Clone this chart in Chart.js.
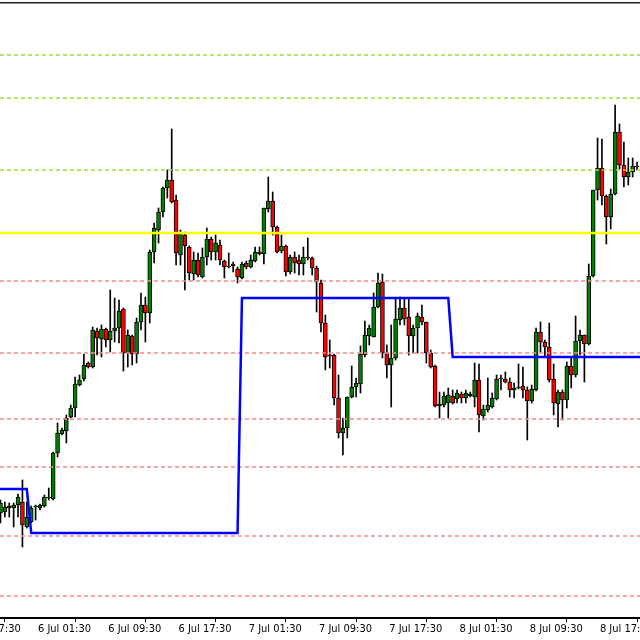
<!DOCTYPE html>
<html><head><meta charset="utf-8">
<script src="https://cdn.jsdelivr.net/npm/chart.js@4.4.1/dist/chart.umd.min.js"></script>
<style>html,body{margin:0;padding:0;background:#fff;}canvas{display:block;}</style>
</head><body>
<canvas id="c" width="640" height="640"></canvas>
<script>
// M30 candles, first candle 5 Jul 21:00, last 8 Jul 21:30
const openPrices = [
1.1107,1.1108,1.1114,1.1112,1.1115,1.1118,1.1093,1.1098,1.1113,
1.1112,1.1114,1.1122,1.1121,1.1167,1.1186,1.1189,1.1203,1.1212,1.1235,
1.1241,1.1257,1.1253,1.1289,1.1281,1.1291,1.1280,1.1289,1.1292,1.1311,
1.1267,1.1284,1.1266,1.1298,1.1315,1.1307,1.1368,1.1390,1.1408,1.1432,
1.1440,1.1420,1.1365,1.1385,1.1373,1.1346,1.1360,1.1343,1.1363,1.1381,
1.1368,1.1375,1.1359,1.1354,1.1356,1.1351,1.1342,1.1357,1.1353,1.1359,
1.1368,1.1366,1.1411,1.1419,1.1393,1.1369,1.1374,1.1348,1.1363,1.1360,
1.1356,1.1363,1.1362,1.1352,1.1337,1.1297,1.1265,1.1265,1.1222,1.1187,
1.1192,1.1223,1.1233,1.1236,1.1265,1.1284,1.1283,1.1313,1.1338,1.1267,
1.1255,1.1262,1.1300,1.1312,1.1303,1.1284,1.1292,1.1303,1.1298,1.1267,
1.1254,1.1216,1.1215,1.1217,1.1224,1.1221,1.1226,1.1222,1.1224,1.1223,
1.1240,1.1204,1.1210,1.1213,1.1221,1.1241,1.1241,1.1238,1.1230,1.1232,
1.1234,1.1230,1.1219,1.1230,1.1288,1.1278,1.1273,1.1241,1.1216,1.1228,
1.1220,1.1254,1.1245,1.1279,1.1285,1.1276,1.1344,1.1430,1.1452,1.1424,
1.1403,1.1426,1.1488,1.1455,1.1443,1.1448,1.1454];
const highPrices = [
1.1120,1.1118,1.1117,1.1117,1.1126,1.1140,1.1118,1.1114,1.1115,
1.1116,1.1125,1.1132,1.1168,1.1197,1.1192,1.1205,1.1215,1.1243,1.1245,
1.1266,1.1258,1.1293,1.1292,1.1295,1.1292,1.1330,1.1322,1.1320,1.1312,
1.1290,1.1285,1.1302,1.1327,1.1323,1.1370,1.1397,1.1412,1.1433,1.1450,
1.1491,1.1425,1.1390,1.1388,1.1374,1.1368,1.1367,1.1372,1.1392,1.1383,
1.1385,1.1380,1.1360,1.1367,1.1358,1.1353,1.1358,1.1359,1.1365,1.1373,
1.1373,1.1412,1.1443,1.1428,1.1394,1.1385,1.1375,1.1365,1.1368,1.1365,
1.1373,1.1382,1.1363,1.1354,1.1340,1.1305,1.1280,1.1266,1.1245,1.1202,
1.1223,1.1254,1.1242,1.1274,1.1299,1.1295,1.1327,1.1347,1.1346,1.1275,
1.1295,1.1322,1.1323,1.1322,1.1322,1.1295,1.1307,1.1315,1.1298,1.1270,
1.1255,1.1228,1.1228,1.1232,1.1230,1.1230,1.1228,1.1230,1.1228,1.1257,
1.1256,1.1215,1.1242,1.1227,1.1245,1.1245,1.1248,1.1242,1.1237,1.1256,
1.1253,1.1233,1.1235,1.1292,1.1298,1.1280,1.1297,1.1256,1.1230,1.1230,
1.1258,1.1263,1.1304,1.1290,1.1285,1.1356,1.1430,1.1482,1.1481,1.1425,
1.1431,1.1515,1.1496,1.1478,1.1462,1.1462,1.1458];
const lowPrices = [
1.1097,1.1103,1.1103,1.1093,1.1103,1.1073,1.1092,1.1097,1.1100,
1.1110,1.1113,1.1120,1.1120,1.1163,1.1185,1.1177,1.1202,1.1203,1.1234,
1.1239,1.1252,1.1252,1.1265,1.1263,1.1273,1.1268,1.1278,1.1277,1.1249,
1.1253,1.1255,1.1257,1.1290,1.1278,1.1297,1.1357,1.1377,1.1403,1.1422,
1.1417,1.1355,1.1355,1.1330,1.1340,1.1340,1.1343,1.1342,1.1355,1.1360,
1.1360,1.1355,1.1342,1.1352,1.1348,1.1337,1.1341,1.1351,1.1352,1.1358,
1.1365,1.1356,1.1408,1.1385,1.1367,1.1367,1.1344,1.1346,1.1347,1.1345,
1.1345,1.1360,1.1345,1.1308,1.1288,1.1250,1.1252,1.1215,1.1182,1.1165,
1.1182,1.1222,1.1223,1.1227,1.1263,1.1275,1.1283,1.1312,1.1262,1.1242,
1.1213,1.1260,1.1295,1.1295,1.1265,1.1267,1.1267,1.1295,1.1257,1.1252,
1.1213,1.1202,1.1213,1.1202,1.1216,1.1217,1.1217,1.1217,1.1223,1.1213,
1.1188,1.1200,1.1208,1.1212,1.1220,1.1230,1.1237,1.1223,1.1222,1.1231,
1.1222,1.1180,1.1217,1.1229,1.1268,1.1263,1.1238,1.1205,1.1193,1.1200,
1.1212,1.1232,1.1243,1.1265,1.1238,1.1275,1.1343,1.1420,1.1415,1.1376,
1.1391,1.1425,1.1451,1.1433,1.1435,1.1443,1.1450];
const closePrices = [
1.1117,1.1113,1.1112,1.1115,1.1123,1.1095,1.1103,1.1112,1.1114,
1.1115,1.1123,1.1123,1.1167,1.1187,1.1190,1.1202,1.1212,1.1236,1.1240,
1.1255,1.1253,1.1290,1.1282,1.1291,1.1280,1.1289,1.1292,1.1309,1.1267,
1.1285,1.1266,1.1298,1.1315,1.1307,1.1368,1.1392,1.1408,1.1432,1.1440,
1.1418,1.1367,1.1387,1.1374,1.1347,1.1360,1.1345,1.1363,1.1381,1.1368,
1.1377,1.1360,1.1353,1.1353,1.1354,1.1343,1.1356,1.1353,1.1360,1.1368,
1.1366,1.1412,1.1419,1.1393,1.1368,1.1374,1.1348,1.1363,1.1357,1.1356,
1.1363,1.1362,1.1352,1.1338,1.1297,1.1263,1.1264,1.1222,1.1187,1.1192,
1.1223,1.1233,1.1237,1.1266,1.1285,1.1292,1.1313,1.1337,1.1267,1.1255,
1.1262,1.1301,1.1312,1.1301,1.1284,1.1292,1.1304,1.1298,1.1267,1.1253,
1.1214,1.1214,1.1224,1.1225,1.1217,1.1227,1.1222,1.1227,1.1226,1.1240,
1.1205,1.1211,1.1215,1.1222,1.1241,1.1242,1.1238,1.1230,1.1232,1.1233,
1.1230,1.1219,1.1231,1.1288,1.1278,1.1273,1.1240,1.1217,1.1228,1.1220,
1.1254,1.1245,1.1279,1.1285,1.1276,1.1344,1.1430,1.1452,1.1424,1.1403,
1.1426,1.1488,1.1455,1.1443,1.1448,1.1454,1.1453];

// x-axis time labels (candle index of each label)
const tickIndex  = [-7, 9, 25, 41, 57, 73, 89, 105, 121, 137];
const tickLabels = ['5 Jul 17:30','6 Jul 01:30','6 Jul 09:30','6 Jul 17:30','7 Jul 01:30',
                    '7 Jul 09:30','7 Jul 17:30','8 Jul 01:30','8 Jul 09:30','8 Jul 17:30'];

// horizontal levels
const upperLevels = [1.1565, 1.1522, 1.1450];
const keyLevel = 1.1387;
const lowerLevels = [1.1339, 1.1267, 1.1201, 1.1153, 1.1084, 1.1024];

// daily pivot (blue step line): level and first candle index of each day
const pivotLevels = [1.1131, 1.1087, 1.1322, 1.1263];
const pivotStarts = [0, 7, 55, 103];

// visible window
const X_MIN = -0.11, X_MAX = 145.67;
const Y_MIN = 1.1002, Y_MAX = 1.1617;

const BULL = '#008000', BEAR = '#ff0000';

const n = openPrices.length;
const idx = [...Array(n).keys()];
const wickData = idx.map(i => ({x: i, y: [lowPrices[i], highPrices[i]]}));
const bodyData = idx.map(i => ({x: i, y: [openPrices[i], closePrices[i]]}));
const bodyColors = idx.map(i => closePrices[i] >= openPrices[i] ? BULL : BEAR);

function pivotAt(i) {
  let v = pivotLevels[0];
  pivotStarts.forEach((s, j) => { if (i >= s) v = pivotLevels[j]; });
  return v;
}
const pivotData = [{x: X_MIN, y: pivotLevels[0]}]
  .concat(idx.map(i => ({x: i, y: pivotAt(i)})))
  .concat([{x: X_MAX, y: pivotLevels[pivotLevels.length - 1]}]);

function level(v, color, width, dash) {
  return {type: 'line', data: [{x: X_MIN, y: v}, {x: X_MAX, y: v}],
    borderColor: color, borderWidth: width, borderDash: dash,
    pointRadius: 0, tension: 0, order: 2};
}

const datasets = [];
upperLevels.forEach(v => datasets.push(level(v, '#a4d83a', 1.3, [4, 3])));
lowerLevels.forEach(v => datasets.push(level(v, '#f58a8a', 1.3, [4, 3])));
datasets.push(level(keyLevel, '#ffff00', 2.5, []));
datasets.push({type: 'line', data: pivotData, borderColor: '#0000ff', borderWidth: 2.5,
  pointRadius: 0, tension: 0, order: 1});
datasets.push({type: 'bar', data: bodyData, backgroundColor: bodyColors, borderColor: '#000',
  borderWidth: 1, borderSkipped: false, barThickness: 4, grouped: false, order: 5});
datasets.push({type: 'bar', data: wickData, backgroundColor: '#000', borderWidth: 0,
  barThickness: 1, grouped: false, order: 6});

new Chart(document.getElementById('c'), {
  type: 'bar',
  data: {datasets},
  options: {
    responsive: false, animation: false, devicePixelRatio: 1,
    layout: {padding: 0, autoPadding: false},
    plugins: {legend: {display: false}, tooltip: {enabled: false}},
    scales: {
      x: {
        type: 'linear', position: 'bottom', min: X_MIN, max: X_MAX, offset: false,
        afterBuildTicks: s => { s.ticks = tickIndex.map(v => ({value: v})); },
        afterFit: s => { s.height = 22; s.paddingLeft = 0; s.paddingRight = 0; },
        grid: {display: true, drawOnChartArea: false, drawTicks: true, tickLength: 4, color: '#000', lineWidth: 1},
        border: {display: true, color: '#000', width: 2},
        ticks: {autoSkip: false, maxRotation: 0, minRotation: 0, align: 'start', labelOffset: -2,
          padding: 1, color: '#000',
          font: {family: "'Liberation Sans Narrow', 'DejaVu Sans Condensed', 'Liberation Sans', sans-serif", size: 11},
          callback: (v, i) => tickLabels[i]}
      },
      xTop: {
        type: 'linear', axis: 'x', position: 'top', min: X_MIN, max: X_MAX,
        grid: {display: false}, ticks: {display: false},
        border: {display: true, color: '#222', width: 1.5},
        afterFit: s => { s.height = 3; s.paddingLeft = 0; s.paddingRight = 0; }
      },
      y: {type: 'linear', display: false, min: Y_MIN, max: Y_MAX}
    }
  }
});
</script>
</body></html>
